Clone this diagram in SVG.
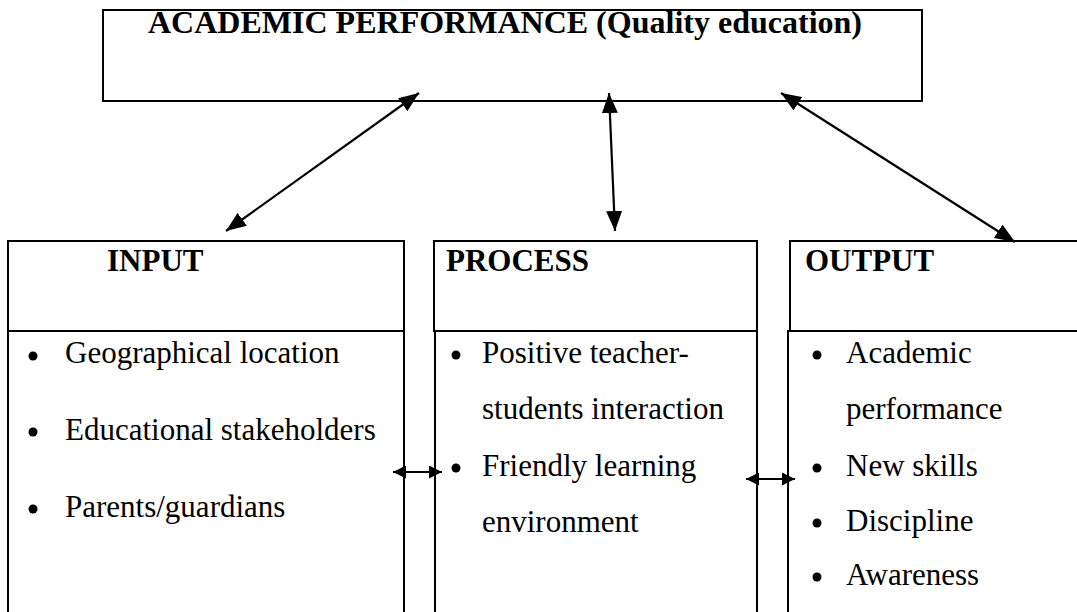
<svg xmlns="http://www.w3.org/2000/svg" width="1077" height="612" viewBox="0 0 1077 612">
  <style>
    .box { fill: #fff; stroke: #000; stroke-width: 2; }
    .head { font-family: "Liberation Serif", Tinos, "DejaVu Serif", "Noto Serif", serif; font-weight: bold; font-size: 31px; fill: #000; }
    .item { font-family: "Liberation Serif", Tinos, "DejaVu Serif", "Noto Serif", serif; font-size: 31px; fill: #000; }
    .link { fill: none; stroke: #000; stroke-width: 2.2; }
  </style>
  <defs>
    <marker id="tipBig" viewBox="0 0 20 16" refX="20" refY="8" markerWidth="20" markerHeight="16" markerUnits="userSpaceOnUse" orient="auto-start-reverse">
      <path d="M0,0 L20,8 L0,16 Z" fill="#000"/>
    </marker>
    <marker id="tipSmall" viewBox="0 0 13 13" refX="13" refY="6.5" markerWidth="13" markerHeight="13" markerUnits="userSpaceOnUse" orient="auto-start-reverse">
      <path d="M0,0 L13,6.5 L0,13 Z" fill="#000"/>
    </marker>
  </defs>

  <rect width="1077" height="612" fill="#fff"/>

  <!-- Goal box -->
  <g id="academic-performance">
    <rect class="box" x="103" y="10" width="819" height="91"/>
    <text class="head" x="148" y="33" textLength="714" lengthAdjust="spacingAndGlyphs">ACADEMIC PERFORMANCE (Quality education)</text>
  </g>

  <!-- Input column -->
  <g id="input">
    <rect class="box" x="8" y="241" width="396" height="90"/>
    <rect class="box" x="8" y="331" width="396" height="290"/>
    <text class="head" x="107" y="271">INPUT</text>
    <circle cx="33" cy="356" r="4.5"/>
    <text class="item" x="65" y="363">Geographical location</text>
    <circle cx="33" cy="432" r="4.5"/>
    <text class="item" x="65" y="440">Educational stakeholders</text>
    <circle cx="33" cy="509" r="4.5"/>
    <text class="item" x="65" y="517">Parents/guardians</text>
  </g>

  <!-- Process column -->
  <g id="process">
    <rect class="box" x="434" y="241" width="323" height="90"/>
    <rect class="box" x="435" y="331" width="322" height="290"/>
    <text class="head" x="446" y="271">PROCESS</text>
    <circle cx="456" cy="355" r="4.5"/>
    <text class="item" x="482" y="363">Positive teacher-</text>
    <text class="item" x="482" y="419">students interaction</text>
    <circle cx="456" cy="468" r="4.5"/>
    <text class="item" x="482" y="476">Friendly learning</text>
    <text class="item" x="482" y="532">environment</text>
  </g>

  <!-- Output column -->
  <g id="output">
    <rect class="box" x="790" y="241" width="300" height="90"/>
    <rect class="box" x="788" y="331" width="302" height="290"/>
    <text class="head" x="805" y="271">OUTPUT</text>
    <circle cx="817" cy="355" r="4.5"/>
    <text class="item" x="846" y="363">Academic</text>
    <text class="item" x="846" y="419">performance</text>
    <circle cx="817" cy="468" r="4.5"/>
    <text class="item" x="846" y="476">New skills</text>
    <circle cx="817" cy="523" r="4.5"/>
    <text class="item" x="846" y="531">Discipline</text>
    <circle cx="817" cy="577" r="4.5"/>
    <text class="item" x="846" y="585">Awareness</text>
  </g>

  <!-- Two-way links -->
  <g id="connectors">
    <line class="link" x1="226" y1="231" x2="419" y2="93" marker-start="url(#tipBig)" marker-end="url(#tipBig)"/>
    <line class="link" x1="615" y1="231" x2="609" y2="93" marker-start="url(#tipBig)" marker-end="url(#tipBig)"/>
    <line class="link" x1="1015" y1="242" x2="781" y2="93" marker-start="url(#tipBig)" marker-end="url(#tipBig)"/>
    <line class="link" x1="393" y1="472" x2="442" y2="472" marker-start="url(#tipSmall)" marker-end="url(#tipSmall)"/>
    <line class="link" x1="746" y1="479" x2="795" y2="479" marker-start="url(#tipSmall)" marker-end="url(#tipSmall)"/>
  </g>
</svg>
